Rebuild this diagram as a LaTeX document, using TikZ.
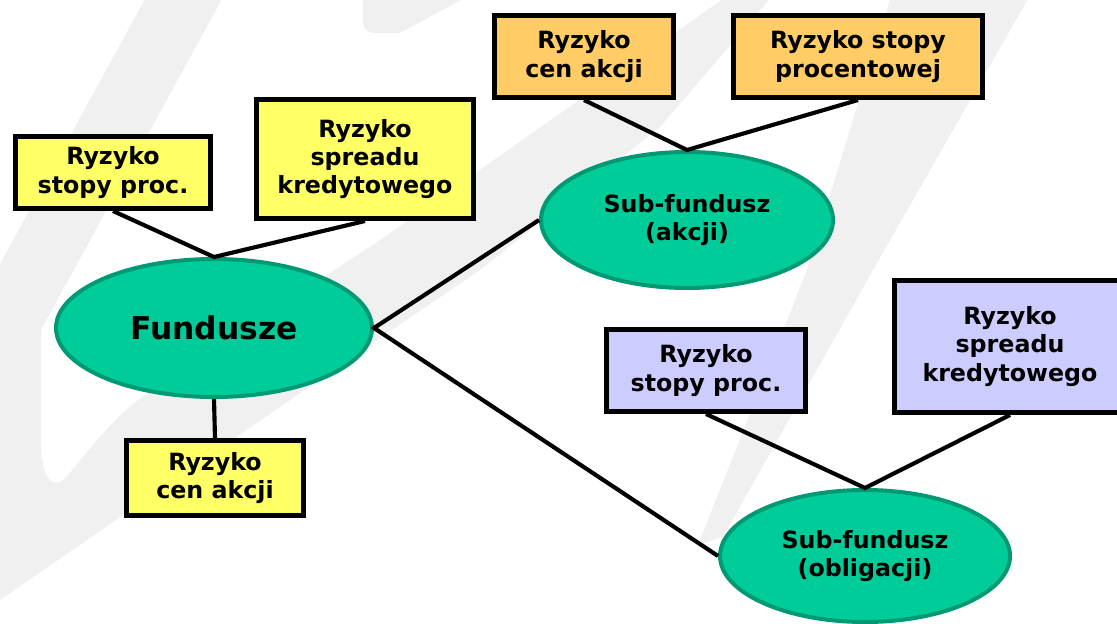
\documentclass[tikz,border=0pt]{standalone}
\usepackage{fontspec}
\setmainfont{DejaVu Sans}
\usetikzlibrary{shapes.geometric}
\definecolor{yel}{HTML}{FFFF66}
\definecolor{orn}{HTML}{FFCC66}
\definecolor{lil}{HTML}{CCCCFF}
\definecolor{fundfill}{HTML}{00CC99}
\definecolor{fundline}{HTML}{009973}
\definecolor{wmgray}{HTML}{F0F0F0}
\newcommand\rbfont{\bfseries\fontsize{17.8}{21.3}\selectfont}
\newcommand\bigfont{\bfseries\fontsize{23.5}{28}\selectfont}
\begin{document}
\begin{tikzpicture}[x=0.75pt,y=-0.75pt,
  riskbox/.style={draw=black, line width=3.75pt, align=center, font=\rbfont, inner sep=0pt},
  fundnode/.style={ellipse, draw=fundline, fill=fundfill, line width=3pt, align=center, inner sep=0pt, font=\rbfont},
  link/.style={line width=3.1pt, black, line join=miter},
  wm/.style={fill=wmgray}]
\useasboundingbox (0,0) rectangle (1117,624);
\clip (0,0) rectangle (1117,624);
% watermark
\fill[wm] (145,-1) -- (222,-1) -- (41,330) -- (41,440) .. controls (41,478) and (52,487) .. (62,481)
  .. controls (75,470) and (100,430) .. (138,400) -- (380,240) -- (723,-1) -- (770,-1)
  -- (660,127) -- (480,270) -- (370,345) -- (0,600) -- (0,264) -- cycle;
\fill[wm] (363,-1) -- (463,-1) -- (400,33) -- (375,33) .. controls (366,33) and (363,28) .. (363,20) -- cycle;
\fill[wm] (890,-1) -- (1028,-1) -- (873,270) -- (723,537) -- (698,545) -- (807,270) -- cycle;
% nodes
\node[riskbox, fill=yel, minimum width=146.25pt, minimum height=54pt] (A) at (113,172.5) {Ryzyko\\stopy proc.};
\node[riskbox, fill=yel, minimum width=162.75pt, minimum height=89.25pt] (B) at (365,159) {Ryzyko\\spreadu\\kredytowego};
\node[riskbox, fill=yel, minimum width=132.75pt, minimum height=56.25pt] (C) at (215,478) {Ryzyko\\cen akcji};
\node[riskbox, fill=orn, minimum width=134.25pt, minimum height=61.5pt] (D) at (584,56.5) {Ryzyko\\cen akcji};
\node[riskbox, fill=orn, minimum width=186.75pt, minimum height=61.5pt] (E) at (858,56.5) {Ryzyko stopy\\procentowej};
\node[riskbox, fill=lil, minimum width=149.25pt, minimum height=61.5pt] (F) at (706,370.5) {Ryzyko\\stopy proc.};
\node[riskbox, fill=lil, minimum width=173.25pt, minimum height=99pt] (G) at (1010,346.5) {Ryzyko\\spreadu\\kredytowego};
\node[fundnode, minimum width=237pt, minimum height=103.5pt, font=\bigfont] (fund) at (214,328) {Fundusze};
\node[fundnode, minimum width=219pt, minimum height=102pt] (akc) at (687,220) {Sub-fundusz\\(akcji)};
\node[fundnode, minimum width=217.5pt, minimum height=99pt] (obl) at (865,556) {Sub-fundusz\\(obligacji)};
% connectors
\draw[link] (A.south) -- (fund.north) -- (B.south);
\draw[link] (C.north) -- (fund.south);
\draw[link] (D.south) -- (akc.north) -- (E.south);
\draw[link] (akc.west) -- (fund.east) -- (obl.west);
\draw[link] (F.south) -- (obl.north) -- (G.south);
\end{tikzpicture}
\end{document}
